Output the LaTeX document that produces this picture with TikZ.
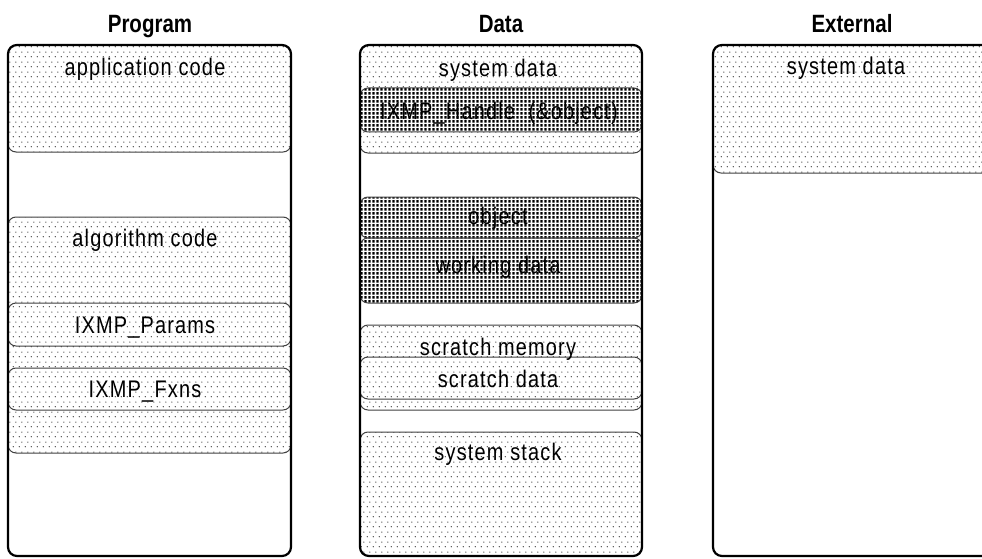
\documentclass[tikz,border=0pt]{standalone}
\usepackage{fontspec}
\setmainfont{Liberation Sans}
\newfontfamily\headfont{Liberation Sans}[FakeStretch=0.82]
\newfontfamily\lblfont{Liberation Sans}[FakeStretch=0.83,LetterSpace=5]
\usetikzlibrary{patterns}

% sparse staggered dot screen for ordinary memory regions
\pgfdeclarepatternformonly{lightdots}{\pgfqpoint{0pt}{0pt}}{\pgfqpoint{6pt}{10pt}}{\pgfqpoint{6pt}{10pt}}{%
  \pgfpathcircle{\pgfqpoint{1.5pt}{2.5pt}}{0.7pt}%
  \pgfpathcircle{\pgfqpoint{4.5pt}{7.5pt}}{0.7pt}%
  \pgfusepath{fill}}
% dense square-dot screen for instance data
\pgfdeclarepatternformonly{densedots}{\pgfqpoint{0pt}{0pt}}{\pgfqpoint{4pt}{4pt}}{\pgfqpoint{4pt}{4pt}}{%
  \pgfpathrectangle{\pgfqpoint{0.6pt}{0.6pt}}{\pgfqpoint{2.8pt}{2.8pt}}%
  \pgfusepath{fill}}

\tikzset{
  region/.style={draw=black!75, line width=1pt, rounded corners=8pt,
    preaction={fill=white}, pattern=lightdots, pattern color=black!85},
  denseregion/.style={region, pattern=densedots, pattern color=black},
  column/.style={draw=black, line width=2.2pt, rounded corners=9pt},
  lbl/.style={font=\lblfont\fontsize{24}{27}\selectfont, anchor=base, inner sep=0pt, text=black},
  head/.style={font=\headfont\bfseries\fontsize{25}{28}\selectfont, anchor=base, inner sep=0pt},
}

\begin{document}
\begin{tikzpicture}[x=1pt,y=-1pt]
\useasboundingbox (0,0) rectangle (982,559);
\clip (0,0) rectangle (982,559);

% column headings
\node[head] (hprog) at (150,33) {Program};
\node[head] (hdata) at (501,33) {Data};
\node[head] (hext)  at (852,33) {External};

% Program memory
\draw[region] (8,45) rectangle (291,152);
\draw[region] (8,217) rectangle (291,453);
\draw[region] (8,303) rectangle (291,346);
\draw[region] (8,368) rectangle (291,410);
\node[lbl] (appcode) at (145,76) {application code};
\node[lbl] (algcode) at (145,246) {algorithm code};
\node[lbl] (params)  at (145,333) {IXMP\_Params};
\node[lbl] (fxns)    at (145,397) {IXMP\_Fxns};

% Data memory
\draw[region] (360,45) rectangle (642,153);
\draw[denseregion] (360,88) rectangle (642,132);
\draw[denseregion] (360,197) rectangle (642,238);
\draw[denseregion] (360,238) rectangle (642,303);
\draw[region] (360,325) rectangle (642,410);
\draw[region] (360,357) rectangle (642,399);
\draw[region] (360,432) rectangle (642,556);
\node[lbl] (sysdata) at (498,77)  {system data};
\node[lbl] (handle)  at (499,120) {IXMP\_Handle\ \ (\&object)};
\node[lbl] (object)  at (498,224) {object};
\node[lbl] (working) at (498,273) {working data};
\node[lbl] (scrmem)  at (498,355) {scratch memory};
\node[lbl] (scrdata) at (498,387) {scratch data};
\node[lbl] (stack)   at (498,460) {system stack};

% External memory
\draw[region] (713,45) rectangle (996,173);
\node[lbl] (extdata) at (846,75) {system data};

% outer memory spaces
\draw[column] (8,45) rectangle (291,556);
\draw[column] (360,45) rectangle (642,556);
\draw[column] (713,45) rectangle (996,556);
\end{tikzpicture}
\end{document}
